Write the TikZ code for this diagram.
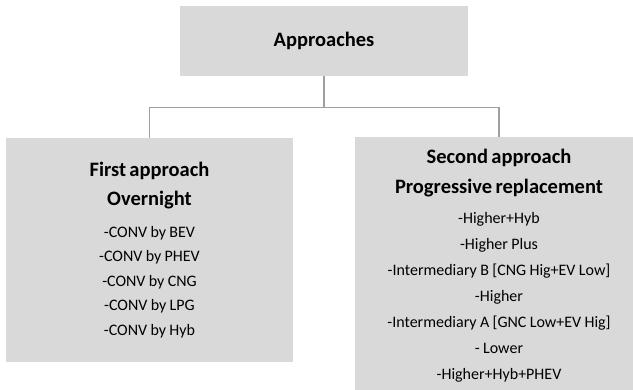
\documentclass[tikz,border=0pt]{standalone}
\usepackage{fontspec}
\setmainfont{Carlito}
\usetikzlibrary{positioning}
\definecolor{boxgray}{RGB}{217,217,217}
\definecolor{linegray}{RGB}{160,160,160}

\begin{document}
\begin{tikzpicture}[x=1pt,y=1pt,
    box/.style={fill=boxgray, inner sep=0pt, align=center},
    link/.style={draw=linegray, line width=1.3pt}]
  \useasboundingbox (0,0) rectangle (633,389);
  \clip (0,0) rectangle (633,389);
  % approaches tree
  \node[box, minimum width=288pt, minimum height=70pt, font=\fontsize{20.5}{24}\selectfont\bfseries] (top) at (324,348) {Approaches};
  \node[box, text width=287pt, minimum height=224pt] (first) at (149.5,139) {%
    {\fontsize{20.5}{29}\selectfont\bfseries First approach\\Overnight\par}
    \vspace{7pt}
    {\fontsize{16}{24.5}\selectfont -CONV by BEV\\-CONV by PHEV\\-CONV by CNG\\-CONV by LPG\\-CONV by Hyb\par}};
  \node[box, text width=288pt, minimum height=258pt] (second) at (499,123) {%
    {\fontsize{20.5}{30}\selectfont\bfseries Second approach\\Progressive replacement\par}
    \vspace{4pt}
    {\fontsize{16}{26}\selectfont -Higher+Hyb\\-Higher Plus\\-Intermediary B [CNG Hig+EV Low]\\-Higher\\-Intermediary A [GNC Low+EV Hig]\\- Lower\\-Higher+Hyb+PHEV\par}};
  \draw[link] (top.south) -- ++(0,-31) coordinate (split) -| (first.north);
  \draw[link] (split) -| (second.north);
\end{tikzpicture}
\end{document}
